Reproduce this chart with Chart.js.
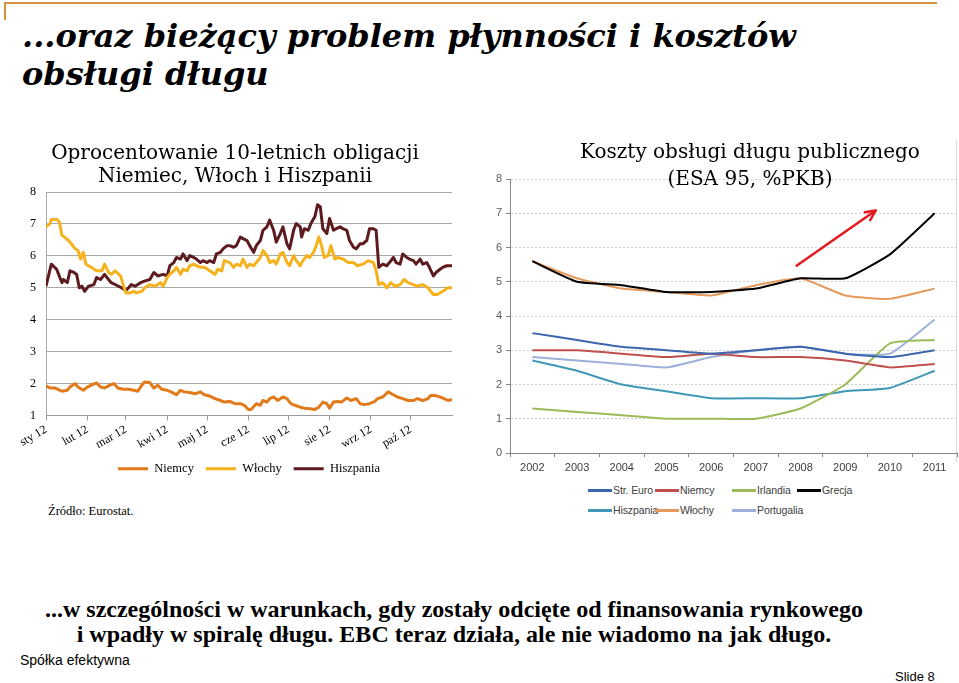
<!DOCTYPE html>
<html><head><meta charset="utf-8">
<script src="https://cdn.jsdelivr.net/npm/chart.js@4.4.0/dist/chart.umd.min.js"></script>
<style>
html,body{margin:0;overflow:hidden}
body{width:959px;height:683px;background:#fff;position:relative}
.abs{position:absolute;white-space:nowrap}
#topline{left:5px;top:2px;width:932px;height:0;border-top:2px solid #D4913F}
#leftline{left:4px;top:2px;width:0;height:18px;border-left:2px solid #D4913F}
#title{left:22px;top:17px;font:italic bold 32px 'DejaVu Serif';line-height:38px;color:#000}
#src{left:48px;top:504px;font:12.5px 'Liberation Serif';color:#000}
#bottom{left:0;top:597px;width:908px;text-align:center;font:bold 24px 'Liberation Serif';line-height:25px;color:#000}
#firm{left:20px;top:652px;font:14px 'Liberation Sans';color:#000}
#slide{left:895px;top:669px;font:13px 'Liberation Sans';color:#000}
#frame{left:956px;top:140px;width:0;height:322px;border-left:1px solid #DADADA}
#c1{left:0;top:136px}
#c2{left:480px;top:136px}
.lg{position:absolute;font:10.5px 'Liberation Sans Narrow','Liberation Sans';letter-spacing:-0.1px;color:#404040;line-height:14px;white-space:nowrap}
.lg i{position:absolute;left:0;top:6px;width:24px;height:3px}
.lg span{position:absolute;left:25px;top:0}
</style></head>
<body>
<div id="topline" class="abs"></div><div id="leftline" class="abs"></div>
<div id="title" class="abs">...oraz bieżący problem płynności i kosztów<br>obsługi długu</div>
<div id="frame" class="abs"></div>
<canvas id="c1" class="abs" width="470" height="349"></canvas>
<canvas id="c2" class="abs" width="540" height="345"></canvas>
<div id="legend2"></div>
<div id="src" class="abs">Źródło: Eurostat.</div>
<div id="bottom" class="abs">...w szczególności w warunkach, gdy zostały odcięte od finansowania rynkowego<br>i wpadły w spiralę długu. EBC teraz działa, ale nie wiadomo na jak długo.</div>
<div id="firm" class="abs">Spółka efektywna</div>
<div id="slide" class="abs">Slide 8</div>
<script>
// ---------- Left chart data (days since 1 Jan 2012) ----------
const monthLabels = ['sty 12','lut 12','mar 12','kwi 12','maj 12','cze 12','lip 12','sie 12','wrz 12','paź 12'];
const monthStartDays = [0,31,60,91,121,152,182,213,244,274];
const lastDay = 305;

const niemcyDays = [0,3,7,9,12,16,18,22,24,28,31,34,38,41,44,48,51,54,58,62,66,69,72,74,78,81,84,87,91,94,98,101,104,108,112,116,119,123,127,131,134,138,142,146,149,152,154,158,161,163,166,168,171,174,178,181,184,187,191,194,198,202,205,208,211,213,216,219,222,226,229,233,236,239,243,247,249,253,257,261,264,268,272,276,279,283,287,289,292,296,299,302,305];
const niemcyVals = [1.93,1.86,1.86,1.82,1.76,1.79,1.89,2.00,1.89,1.79,1.89,1.95,2.02,1.89,1.86,1.95,2.00,1.86,1.82,1.82,1.79,1.76,1.95,2.05,2.03,1.86,1.95,1.82,1.79,1.74,1.65,1.79,1.74,1.72,1.68,1.74,1.65,1.61,1.53,1.47,1.42,1.44,1.37,1.37,1.32,1.19,1.19,1.37,1.32,1.47,1.42,1.53,1.58,1.47,1.58,1.53,1.37,1.32,1.26,1.23,1.21,1.19,1.26,1.42,1.37,1.23,1.42,1.44,1.42,1.55,1.47,1.53,1.37,1.34,1.37,1.44,1.53,1.58,1.74,1.65,1.58,1.53,1.47,1.47,1.53,1.47,1.53,1.63,1.63,1.58,1.53,1.47,1.50];

const wlochyDays = [0,3,4,8,10,12,14,17,19,22,24,26,28,30,32,34,38,42,44,47,49,52,56,58,60,63,66,68,72,74,78,82,86,88,91,93,96,98,101,103,106,108,111,113,116,119,123,127,129,132,134,138,141,143,146,148,151,153,156,161,163,166,168,171,173,176,178,181,183,186,188,191,193,196,198,201,203,205,207,209,212,214,217,219,223,227,231,234,238,242,246,248,250,253,256,259,262,266,269,272,276,279,283,287,291,294,298,302,305];
const wlochyVals = [6.91,7.01,7.14,7.14,7.07,6.64,6.59,6.48,6.38,6.22,6.17,5.90,6.11,5.74,5.69,5.64,5.53,5.53,5.74,5.48,5.42,5.53,5.37,5.10,4.84,4.84,4.89,4.84,4.89,5.00,5.10,5.05,5.16,5.05,5.32,5.42,5.53,5.64,5.42,5.58,5.53,5.69,5.74,5.69,5.64,5.64,5.53,5.42,5.58,5.53,5.85,5.79,5.64,5.74,5.69,5.90,5.64,5.74,5.69,5.95,6.17,6.01,5.79,5.85,5.74,6.06,6.11,5.79,5.69,6.01,5.85,5.69,5.85,6.01,5.95,6.11,6.32,6.59,6.32,5.95,6.01,6.32,5.90,5.95,5.90,5.79,5.79,5.69,5.74,5.85,5.79,5.53,5.10,5.16,5.00,5.16,5.05,5.10,5.26,5.16,5.10,5.05,5.10,5.00,4.79,4.79,4.89,5.00,5.00];

const hiszpaniaDays = [0,4,8,11,12,13,16,18,21,23,25,27,29,32,36,38,41,44,47,49,53,57,60,62,64,67,71,74,78,81,84,88,91,93,96,98,101,103,106,108,111,113,116,118,121,123,126,128,131,133,136,138,141,143,146,148,151,153,156,158,161,163,166,168,171,173,176,178,181,183,186,188,191,192,194,197,199,202,204,206,208,211,213,216,218,221,223,226,228,231,233,236,238,241,243,246,248,250,253,256,258,261,263,266,268,271,273,276,278,281,283,286,288,291,293,296,298,301,305];
const hiszpaniaVals = [5.05,5.74,5.58,5.26,5.16,5.26,5.16,5.53,5.48,5.42,5.00,5.05,4.89,5.05,5.10,5.32,5.26,5.42,5.26,5.16,5.08,5.00,4.91,5.00,5.10,5.05,5.16,5.21,5.26,5.48,5.37,5.42,5.37,5.69,5.79,5.95,5.90,6.06,5.85,6.01,5.95,5.90,5.79,5.85,5.79,5.85,5.79,6.06,6.11,6.22,6.32,6.32,6.27,6.32,6.59,6.54,6.48,6.32,6.11,6.32,6.48,6.80,6.91,7.12,6.80,6.43,6.70,6.91,6.38,6.22,6.80,7.01,6.91,6.59,6.85,6.80,7.01,7.23,7.60,7.54,6.85,6.70,7.17,6.80,6.85,6.91,6.85,6.80,6.48,6.27,6.22,6.38,6.38,6.48,6.85,6.85,6.80,5.64,5.74,5.69,5.79,5.95,5.79,5.74,6.06,5.95,5.90,5.85,5.74,5.90,5.74,5.79,5.64,5.37,5.48,5.58,5.64,5.69,5.69];

// ---------- Right chart data ----------
const years = ['2002','2003','2004','2005','2006','2007','2008','2009','2010','2011'];
const strEuro    = [3.5,3.3,3.1,3.0,2.9,3.0,3.1,2.9,2.8,3.0];
const niemcyDebt = [3.0,3.0,2.9,2.8,2.9,2.8,2.8,2.7,2.5,2.6];
const irlandia   = [1.3,1.2,1.1,1.0,1.0,1.0,1.3,2.0,3.2,3.3];
const grecja     = [5.6,5.0,4.9,4.7,4.7,4.8,5.1,5.1,5.8,7.0];
const hiszpaniaDebt = [2.7,2.4,2.0,1.8,1.6,1.6,1.6,1.8,1.9,2.4];
const wlochyDebt = [5.6,5.1,4.8,4.7,4.6,4.9,5.1,4.6,4.5,4.8];
const portugalia = [2.8,2.7,2.6,2.5,2.8,3.0,3.1,2.9,2.9,3.9];
// red trend arrow, in (category index, value) coordinates
const arrowFrom = [5.91, 5.47];
const arrowTo   = [7.68, 7.08];

const pts = (d, v) => d.map((x, i) => ({x, y: v[i]}));
// empty spacer axis on the right (keeps titles centred on the full canvas)
const spacer = (w) => ({position:'right', display:true, afterFit:(s)=>{s.width = w;},
  ticks:{display:false}, grid:{display:false}, border:{display:false}});

// ---------- Left chart ----------
const serif = 'Liberation Serif';
new Chart(document.getElementById('c1'), {
  type: 'line',
  data: {datasets: [
    {label:'Niemcy', data: pts(niemcyDays, niemcyVals), borderColor:'#E2791A', backgroundColor:'#E2791A'},
    {label:'Włochy', data: pts(wlochyDays, wlochyVals), borderColor:'#F6B21C', backgroundColor:'#F6B21C'},
    {label:'Hiszpania', data: pts(hiszpaniaDays, hiszpaniaVals), borderColor:'#5E1B1F', backgroundColor:'#5E1B1F'}
  ]},
  options: {
    responsive:false, animation:false, devicePixelRatio:1,
    layout:{padding:0},
    elements:{point:{radius:0}, line:{borderWidth:3, tension:0, borderJoinStyle:'round'}},
    plugins:{
      title:{display:true, text:['Oprocentowanie 10-letnich obligacji','Niemiec, Włoch i Hiszpanii'],
        font:{family:'DejaVu Serif', size:20, weight:'normal', lineHeight:1.15}, color:'#000', padding:{top:6,bottom:4}},
      legend:{position:'bottom', fullSize:false, labels:{font:{family:serif,size:12.5}, color:'#000', boxWidth:30, boxHeight:3, padding:12,
        generateLabels:(ch)=>Chart.defaults.plugins.legend.labels.generateLabels(ch).map(l=>({...l,lineWidth:0}))}},
      tooltip:{enabled:false}
    },
    scales:{
      x:{type:'linear', min:0, max:lastDay,
        afterBuildTicks:(s)=>{s.ticks = monthStartDays.map(v=>({value:v}));},
        afterFit:(s)=>{s.height = 35;},
        ticks:{autoSkip:false, minRotation:30, maxRotation:30, padding:2, font:{family:serif,size:12}, color:'#000',
          callback:(v,i)=>monthLabels[i]},
        grid:{drawOnChartArea:false, drawTicks:true, tickLength:5, color:'#9a9a9a'},
        border:{color:'#9a9a9a'}},
      y:{min:1, max:8,
        afterFit:(s)=>{s.width = 46;},
        ticks:{stepSize:1, padding:10, font:{family:serif,size:12}, color:'#000'},
        grid:{color:'#A8A8A8', drawTicks:false},
        border:{color:'#A8A8A8'}},
      pad:spacer(18)
    }
  }
});

// ---------- Right chart ----------
const arrowPlugin = {
  id:'arrow',
  afterDatasetsDraw(chart){
    const {x, y} = chart.scales, ctx = chart.ctx;
    const x1 = x.getPixelForValue(arrowFrom[0]), y1 = y.getPixelForValue(arrowFrom[1]);
    const x2 = x.getPixelForValue(arrowTo[0]), y2 = y.getPixelForValue(arrowTo[1]);
    const a = Math.atan2(y2-y1, x2-x1), h = 11;
    ctx.save();
    ctx.strokeStyle = '#E3191F'; ctx.lineWidth = 2.5; ctx.lineCap='round'; ctx.lineJoin='round';
    ctx.beginPath(); ctx.moveTo(x1,y1); ctx.lineTo(x2,y2); ctx.stroke();
    ctx.beginPath();
    ctx.moveTo(x2 - h*Math.cos(a-0.45), y2 - h*Math.sin(a-0.45));
    ctx.lineTo(x2,y2);
    ctx.lineTo(x2 - h*Math.cos(a+0.45), y2 - h*Math.sin(a+0.45));
    ctx.stroke();
    ctx.restore();
  }
};
const sans = 'Liberation Sans';
const rightSeries = [
  {label:'Str. Euro', data:strEuro, color:'#3C66AE'},
  {label:'Niemcy', data:niemcyDebt, color:'#C0504D'},
  {label:'Irlandia', data:irlandia, color:'#9BBB59'},
  {label:'Grecja', data:grecja, color:'#000000'},
  {label:'Hiszpania', data:hiszpaniaDebt, color:'#4198B6'},
  {label:'Włochy', data:wlochyDebt, color:'#E59A5C'},
  {label:'Portugalia', data:portugalia, color:'#9DB0DA'}
];
new Chart(document.getElementById('c2'), {
  type:'line',
  data:{labels:years, datasets: rightSeries.map(s=>({label:s.label, data:s.data, borderColor:s.color, backgroundColor:s.color}))},
  options:{
    responsive:false, animation:false, devicePixelRatio:1,
    layout:{padding:0},
    elements:{point:{radius:0}, line:{borderWidth:2, tension:0.15}},
    plugins:{
      title:{display:true, text:['Koszty obsługi długu publicznego','(ESA 95, %PKB)'],
        font:{family:'DejaVu Serif', size:20, weight:'normal', lineHeight:1.35}, color:'#000', padding:{top:3.5,bottom:-14.5}},
      legend:{display:false}, tooltip:{enabled:false}
    },
    scales:{
      x:{type:'category', offset:true,
        afterFit:(s)=>{s.height = 28;},
        ticks:{padding:4, font:{family:sans,size:11}, color:'#404040'},
        grid:{offset:true, drawOnChartArea:false, drawTicks:true, tickLength:4, color:'#868686'},
        border:{color:'#868686'}},
      y:{min:0, max:8,
        afterFit:(s)=>{s.width = 30;},
        ticks:{stepSize:1, padding:4, font:{family:sans,size:11}, color:'#595959'},
        grid:{color:'#CFCFCF', drawTicks:true, tickLength:4, tickColor:'#868686', tickBorderDash:[]},
        border:{color:'#868686', dash:[2,2]}},
      pad:spacer(63)
    }
  },
  plugins:[arrowPlugin]
});

// HTML legend for the right chart (two rows, column aligned)
const colX = [588, 655, 732, 797], rowY = [483, 503];
const lg = document.getElementById('legend2');
rightSeries.forEach((s, i) => {
  const r = i < 4 ? 0 : 1, c = i < 4 ? i : i - 4;
  const d = document.createElement('div');
  d.className = 'lg';
  d.style.left = colX[c] + 'px'; d.style.top = rowY[r] + 'px';
  d.innerHTML = '<i style="background:'+s.color+'"></i><span>'+s.label+'</span>';
  lg.appendChild(d);
});
</script>
</body></html>
